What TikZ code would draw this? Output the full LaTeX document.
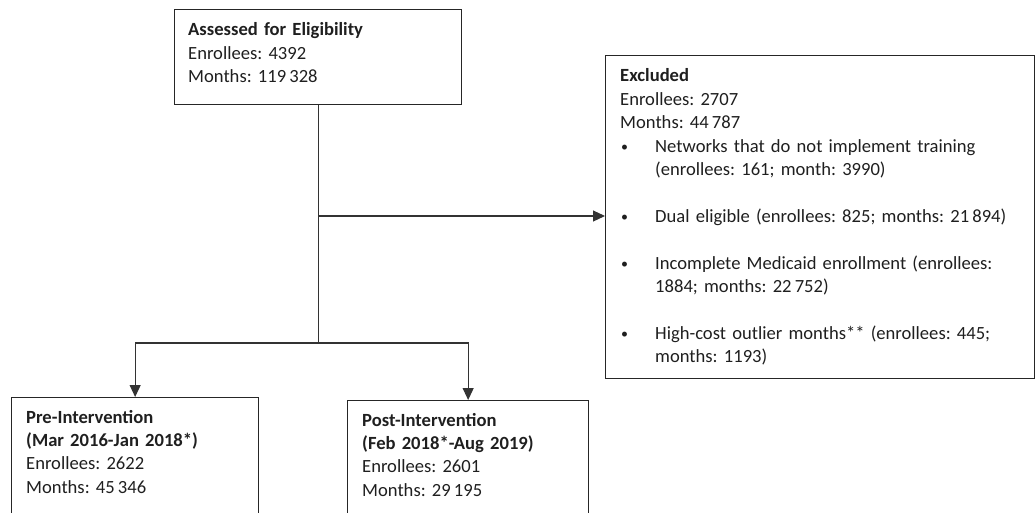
\documentclass[tikz,border=0pt]{standalone}
\usepackage{fontspec}
\setmainfont{Carlito}
\usetikzlibrary{arrows.meta}
\frenchspacing
\newcommand\bul{\makebox[35pt][l]{\hspace{1pt}\raisebox{1pt}{\scalebox{0.75}{\textbullet}}}}
\newcommand\ind{\hspace*{35pt}}
\begin{document}
\begin{tikzpicture}[x=1pt,y=-1pt,
  box/.style={draw=black!85, line width=1.3pt, inner sep=0pt, anchor=north west},
  txt/.style={anchor=base west, inner sep=0pt, align=left, text width=#1,
    font=\fontsize{18.6}{23.4}\selectfont, text=black!88},
  conn/.style={draw=black!80, line width=1.1pt},
  arr/.style={conn, -{Triangle[length=12pt,width=11pt]}}]
\useasboundingbox (0,0) rectangle (1035,513);
\clip (0,0) rectangle (1035,513);
% boxes
\node[box, minimum width=287pt, minimum height=95pt] (top) at (174,9) {};
\node[box, minimum width=429pt, minimum height=323pt] (excl) at (605,55) {};
\node[box, minimum width=247pt, minimum height=150pt] (pre) at (11,397) {};
\node[box, minimum width=241pt, minimum height=150pt] (post) at (347,400) {};
% texts
\node[txt=270pt] (toptxt) at (188,36) {\textbf{Assessed for Eligibility}\\Enrollees: 4392\\Months: 119\,328};
\node[txt=410pt] (excltxt) at (620,82) {\textbf{Excluded}\\Enrollees: 2707\\Months: 44\,787\\
\bul Networks that do not implement training\\
\ind(enrollees: 161; month: 3990)\\[23.4pt]
\bul Dual eligible (enrollees: 825; months: 21\,894)\\[23.4pt]
\bul Incomplete Medicaid enrollment (enrollees:\\
\ind 1884; months: 22\,752)\\[23.4pt]
\bul High-cost outlier months** (enrollees: 445;\\
\ind months: 1193)};
\node[txt=230pt] (pretxt) at (26,423) {\textbf{Pre-Intervention}\\\textbf{(Mar 2016-Jan 2018*)}\\Enrollees: 2622\\Months: 45\,346};
\node[txt=225pt] (posttxt) at (362,426) {\textbf{Post-Intervention}\\\textbf{(Feb 2018*-Aug 2019)}\\Enrollees: 2601\\Months: 29\,195};
% connectors
\coordinate (mid) at (top.south |- 0,216);
\coordinate (split) at (top.south |- 0,343);
\draw[conn] (top.south) -- (split);
\draw[arr] (mid) -- (excl.west |- mid);
\draw[arr] (split) -| (pre.north);
\draw[arr] (split) -| (post.north);
\end{tikzpicture}
\end{document}
